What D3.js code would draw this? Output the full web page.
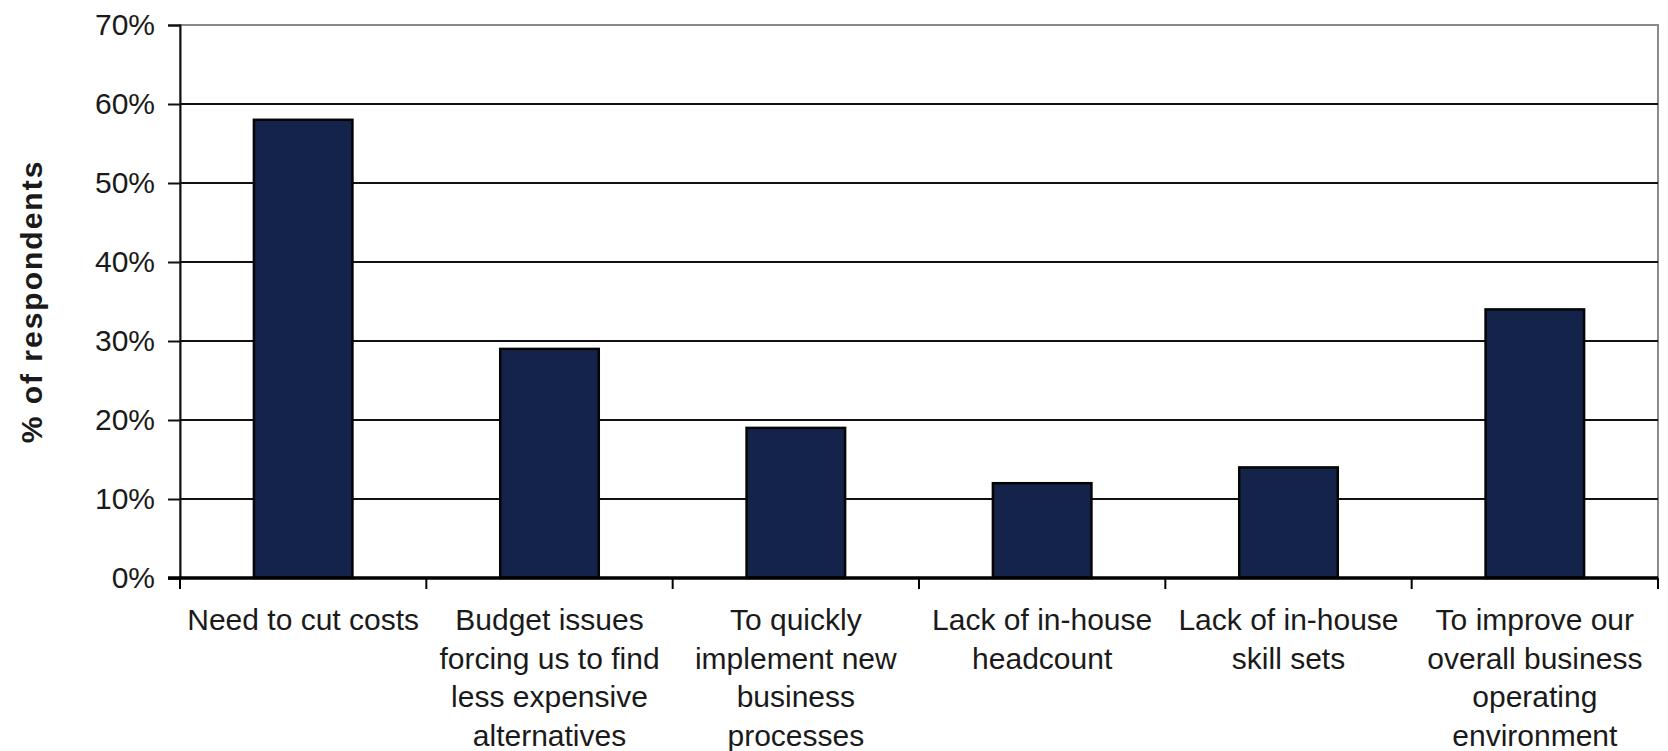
<!DOCTYPE html>
<html>
<head>
<meta charset="utf-8">
<script src="https://cdn.jsdelivr.net/npm/d3@7"></script>
<style>
  html, body { margin: 0; padding: 0; background: #fff; }
  svg { display: block; }
  text { font-family: "Liberation Sans", Arial, sans-serif; }
</style>
</head>
<body>
<svg id="chart" width="1668" height="751"></svg>
<script>
const categories = [
  "Need to cut costs",
  "Budget issues\nforcing us to find\nless expensive\nalternatives",
  "To quickly\nimplement new\nbusiness\nprocesses",
  "Lack of in-house\nheadcount",
  "Lack of in-house\nskill sets",
  "To improve our\noverall business\noperating\nenvironment"
];
const values = [0.58, 0.29, 0.19, 0.12, 0.14, 0.34];
const yTicks = [0, 0.1, 0.2, 0.3, 0.4, 0.5, 0.6, 0.7];
const yTitle = "% of respondents";

(function () {
const svg = d3.select("#chart");
const pLeft = 180, pRight = 1658, pTop = 25, pBottom = 578;

const x = d3.scaleBand().domain(categories).range([pLeft, pRight])
  .paddingInner(0.6).paddingOuter(0.3);
const y = d3.scaleLinear().domain([0, 0.7]).range([pBottom, pTop]);

// plot area border (grey)
svg.append("rect")
  .attr("x", pLeft).attr("y", pTop)
  .attr("width", pRight - pLeft).attr("height", pBottom - pTop)
  .attr("fill", "none").attr("stroke", "#8a8a8a").attr("stroke-width", 2);

// gridlines
svg.append("g").selectAll("line")
  .data(yTicks.filter(d => d > 0 && d < 0.7))
  .join("line")
  .attr("x1", pLeft).attr("x2", pRight)
  .attr("y1", d => y(d)).attr("y2", d => y(d))
  .attr("stroke", "#111").attr("stroke-width", 2);

// y axis
const yAxis = d3.axisLeft(y).tickValues(yTicks)
  .tickFormat(d3.format(".0%")).tickSize(12).tickPadding(13);
const gy = svg.append("g").attr("transform", `translate(${pLeft},0)`).call(yAxis);
gy.select(".domain").attr("stroke", "#111").attr("stroke-width", 2);
gy.selectAll(".tick line").attr("stroke", "#111").attr("stroke-width", 2);
gy.selectAll(".tick text")
  .attr("font-size", 30).attr("fill", "#1a1a1a")
  .attr("font-family", "'Liberation Sans', Arial, sans-serif")
  .attr("dy", "0.3em");

// bars
svg.append("g").selectAll("rect")
  .data(values)
  .join("rect")
  .attr("x", (d, i) => x(categories[i]))
  .attr("y", d => y(d))
  .attr("width", x.bandwidth())
  .attr("height", d => y(0) - y(d))
  .attr("fill", "#14234a")
  .attr("stroke", "#050505").attr("stroke-width", 2.5);

// x axis line
svg.append("line")
  .attr("x1", pLeft - 12).attr("x2", pRight)
  .attr("y1", pBottom).attr("y2", pBottom)
  .attr("stroke", "#000").attr("stroke-width", 3.5);

// x tick marks at category boundaries
const step = x.step();
const bounds = categories.map(c => x(c) - (step - x.bandwidth()) / 2);
bounds.push(bounds[bounds.length - 1] + step);
svg.append("g").selectAll("line")
  .data(bounds)
  .join("line")
  .attr("x1", d => d).attr("x2", d => d)
  .attr("y1", pBottom).attr("y2", pBottom + 11)
  .attr("stroke", "#000").attr("stroke-width", 2);

// x labels
const lab = svg.append("g").selectAll("text")
  .data(categories)
  .join("text")
  .attr("text-anchor", "middle")
  .attr("font-size", 30)
  .attr("fill", "#1a1a1a")
  .attr("x", d => x(d) + x.bandwidth() / 2)
  .attr("y", 630);
lab.each(function(d) {
  const t = d3.select(this);
  const cx = x(d) + x.bandwidth() / 2;
  d.split("\n").forEach((line, i) => {
    t.append("tspan").attr("x", cx).attr("dy", i === 0 ? 0 : 38.5).text(line);
  });
});

// y title
svg.append("text")
  .attr("transform", `translate(42,${(pTop + pBottom) / 2}) rotate(-90)`)
  .attr("text-anchor", "middle")
  .attr("font-size", 30)
  .attr("font-weight", "bold")
  .attr("letter-spacing", 2)
  .attr("fill", "#1a1a1a")
  .text(yTitle);
})();
</script>
</body>
</html>
